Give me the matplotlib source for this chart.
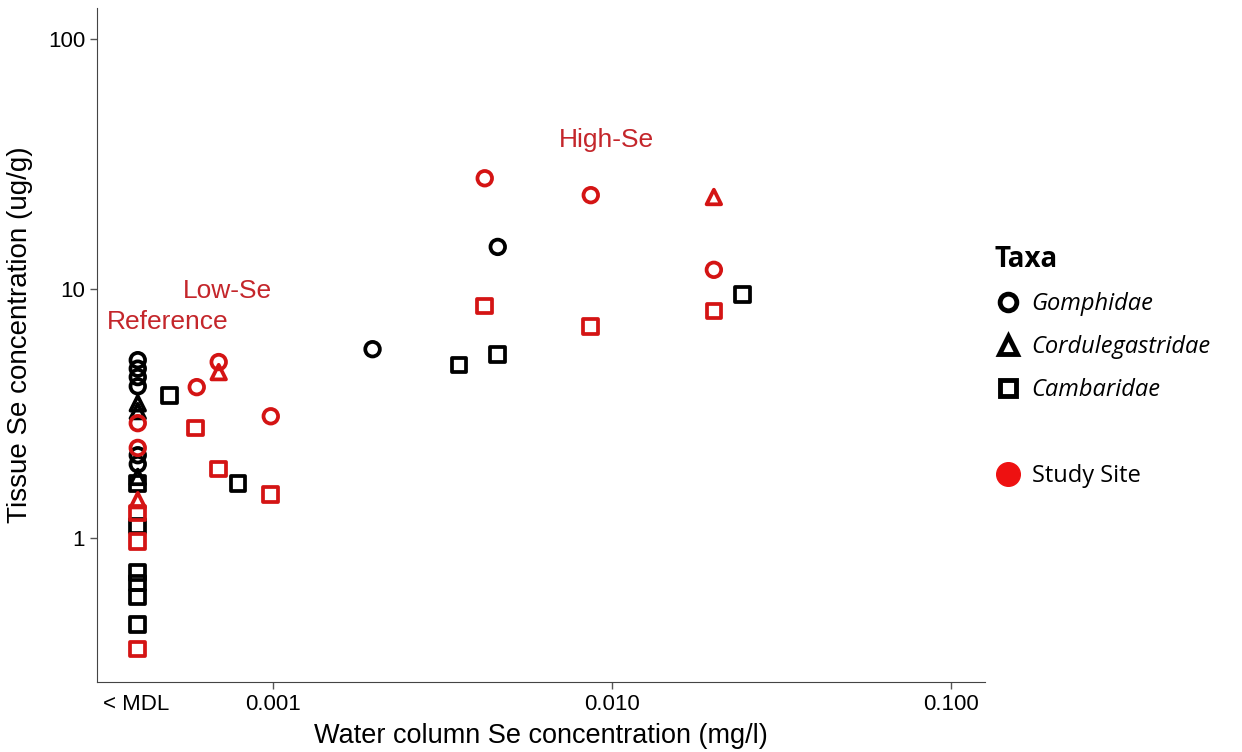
import matplotlib.pyplot as plt
from matplotlib.lines import Line2D

# x position used for samples below the detection limit
MDL_X = 0.0004

# reference sites (water Se < MDL)
ref_gomph_black = [5.17, 4.78, 4.42, 4.06, 2.15, 1.98]
ref_gomph_red = [2.89, 2.3]
ref_cordu_black = [3.47, 3.23, 1.76]
ref_cordu_red = [1.42]
ref_camb_black = [1.66, 1.12, 0.73, 0.66, 0.58, 0.45]
ref_camb_red = [1.26, 0.97, 0.36]

# low / high Se sites
gomph_black_x = [0.00197, 0.00461]
gomph_black_y = [5.72, 14.7]
gomph_red_x = [0.000597, 0.000693, 0.000987, 0.00422, 0.00867, 0.020]
gomph_red_y = [4.03, 5.08, 3.08, 27.7, 23.7, 11.9]
cordu_red_x = [0.000693, 0.020]
cordu_red_y = [4.63, 23.3]
camb_black_x = [0.000497, 0.000789, 0.00354, 0.00461, 0.0243]
camb_black_y = [3.74, 1.66, 4.94, 5.46, 9.5]
camb_red_x = [0.000593, 0.000693, 0.000987, 0.00422, 0.00867, 0.020]
camb_red_y = [2.76, 1.89, 1.5, 8.51, 7.07, 8.13]

RED = '#d41414'
TXT_RED = '#c4262b'
plt.rcParams['font.family'] = ['Liberation Sans', 'DejaVu Sans']

fig = plt.figure(figsize=(12.42, 7.52), dpi=100)
ax = fig.add_axes([0.078, 0.093, 0.715, 0.896])
ax.set_xscale('log')
ax.set_yscale('log')

kw = dict(s=110, facecolors='none', linewidths=2.7, zorder=3)

def pts(x, y, m, c):
    ax.scatter(x, y, marker=m, edgecolors=c, **kw)

pts([MDL_X] * len(ref_camb_black), ref_camb_black, 's', 'black')
pts([MDL_X] * len(ref_camb_red), ref_camb_red, 's', RED)
pts([MDL_X] * len(ref_cordu_black), ref_cordu_black, '^', 'black')
pts([MDL_X] * len(ref_cordu_red), ref_cordu_red, '^', RED)
pts([MDL_X] * len(ref_gomph_black), ref_gomph_black, 'o', 'black')
pts([MDL_X] * len(ref_gomph_red), ref_gomph_red, 'o', RED)

pts(camb_black_x, camb_black_y, 's', 'black')
pts(camb_red_x, camb_red_y, 's', RED)
pts(cordu_red_x, cordu_red_y, '^', RED)
pts(gomph_black_x, gomph_black_y, 'o', 'black')
pts(gomph_red_x, gomph_red_y, 'o', RED)

ax.set_xlim(0.000303, 0.126)
ax.set_ylim(0.265, 133)

ax.set_xticks([0.000395, 0.001, 0.01, 0.1])
ax.set_xticklabels(['< MDL', '0.001', '0.010', '0.100'])
ax.set_yticks([1, 10, 100])
ax.set_yticklabels(['1', '10', '100'])
ax.minorticks_off()
ax.tick_params(labelsize=16, length=5, width=1, color='#555555')
ax.xaxis.get_major_ticks()[0].tick1line.set_visible(False)
for sp in ['top', 'right']:
    ax.spines[sp].set_visible(False)
for sp in ['left', 'bottom']:
    ax.spines[sp].set_color('#444444')

ax.set_xlabel('Water column Se concentration (mg/l)', fontsize=19.5, labelpad=6)
ax.set_ylabel('Tissue Se concentration (ug/g)', fontsize=20)
ax.yaxis.set_label_coords(-0.072, 0.515)

ax.text(0.00049, 7.34, 'Reference', color=TXT_RED, fontsize=19, ha='center', va='center')
ax.text(0.000736, 9.77, 'Low-Se', color=TXT_RED, fontsize=19, ha='center', va='center')
ax.text(0.00966, 39.4, 'High-Se', color=TXT_RED, fontsize=19, ha='center', va='center')

handles = [
    Line2D([], [], ls='none', marker='o', mfc='none', mec='black', mew=3.5, ms=12),
    Line2D([], [], ls='none', marker='^', mfc='none', mec='black', mew=3.5, ms=13),
    Line2D([], [], ls='none', marker='s', mfc='none', mec='black', mew=3.5, ms=12),
    Line2D([], [], ls='none', marker=None),
    Line2D([], [], ls='none', marker='o', mfc='#ee1111', mec='#ee1111', ms=17),
]
labels = ['Gomphidae', 'Cordulegastridae', 'Cambaridae', '', 'Study Site']
leg = fig.legend(handles, labels, loc='upper left', bbox_to_anchor=(0.784, 0.703),
                 frameon=False, title='Taxa', alignment='left',
                 prop={'family': 'Open Sans', 'size': 17}, handlelength=1.1,
                 handletextpad=0.45, labelspacing=0.8,
                 title_fontproperties={'family': 'Open Sans', 'size': 20, 'weight': 'bold'})
for t in leg.get_texts()[:3]:
    t.set_style('italic')

fig.savefig('out.png', dpi=100)
